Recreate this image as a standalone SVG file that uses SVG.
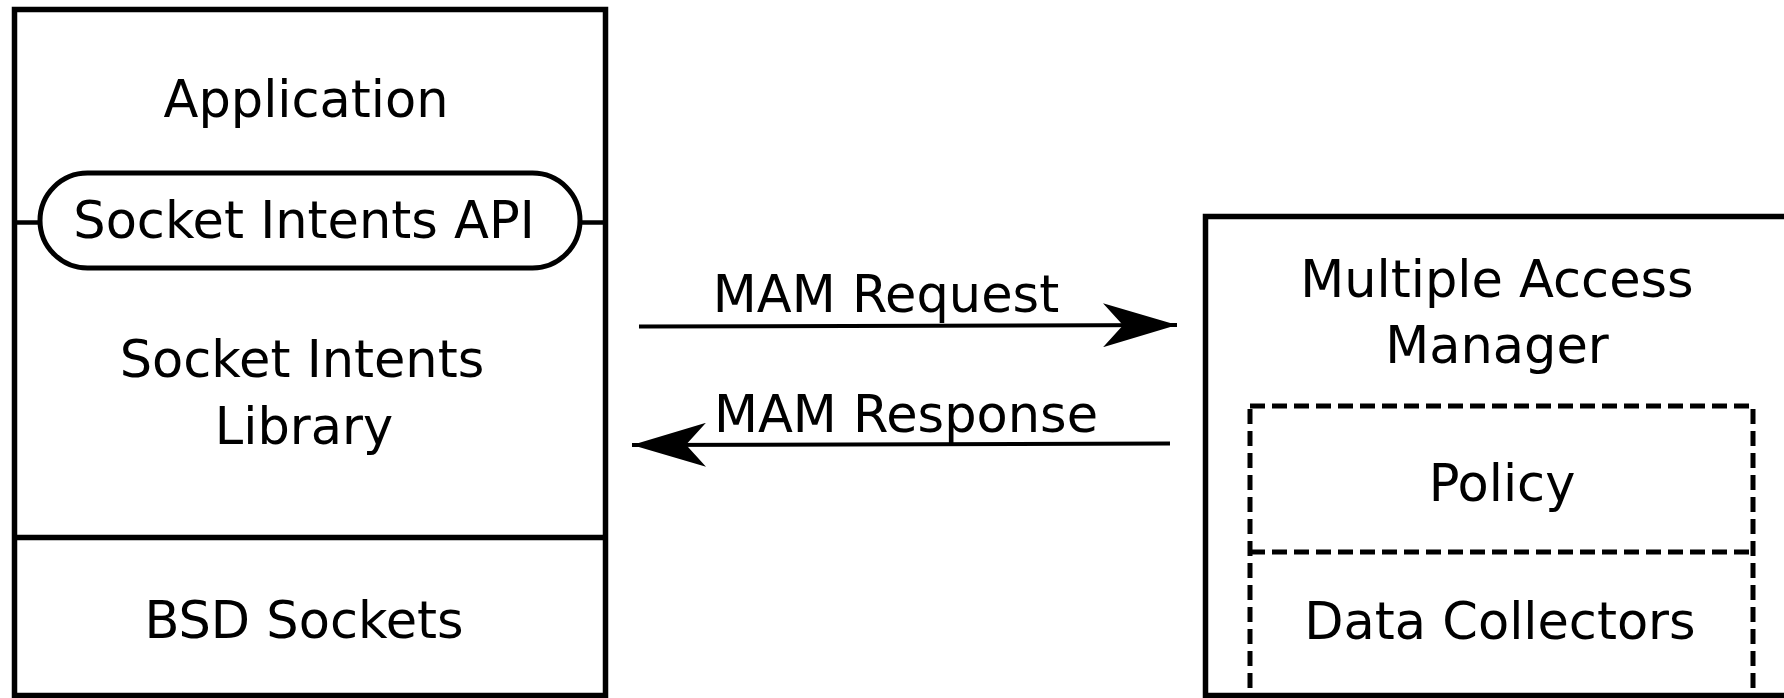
<svg xmlns="http://www.w3.org/2000/svg" width="1784" height="698" viewBox="0 0 1784 698">
  <style>
    .box { fill: none; stroke: #000; stroke-width: 5.5; }
    .pill { fill: #fff; stroke: #000; stroke-width: 5; }
    .stub { stroke: #000; stroke-width: 4.5; }
    .dash { fill: none; stroke: #000; stroke-width: 5; stroke-dasharray: 15 7; }
    .flow { fill: none; stroke: #000; stroke-width: 4; }
    .label { font-family: "DejaVu Sans", "Liberation Sans", sans-serif; font-size: 51px; fill: #000; text-anchor: middle; }
  </style>
  <defs>
    <marker id="head" viewBox="0 0 74 44" refX="74" refY="22" markerWidth="74" markerHeight="44" markerUnits="userSpaceOnUse" orient="auto">
      <path d="M0,0 L74,22 L0,44 L20,22 Z" fill="#000"/>
    </marker>
  </defs>

  <rect width="1784" height="698" fill="#fff"/>

  <!-- client host stack -->
  <g id="client-stack">
    <rect class="box" x="14.5" y="9.5" width="591" height="686"/>
    <line class="box" x1="14.5" y1="537.5" x2="605.5" y2="537.5"/>
    <text class="label" x="306" y="117">Application</text>
    <text class="label" x="302" y="377">Socket Intents</text>
    <text class="label" x="304" y="444">Library</text>
    <text class="label" x="304" y="638">BSD Sockets</text>
  </g>

  <!-- API boundary between application and library -->
  <g id="socket-intents-api">
    <line class="stub" x1="14.5" y1="222.5" x2="40" y2="222.5"/>
    <line class="stub" x1="580" y1="222.5" x2="605.5" y2="222.5"/>
    <rect class="pill" x="40" y="173" width="540" height="95" rx="47.5" ry="47.5"/>
    <text class="label" x="304" y="238">Socket Intents API</text>
  </g>

  <!-- multiple access manager -->
  <g id="mam">
    <rect class="box" x="1205.5" y="216.5" width="600" height="479"/>
    <text class="label" x="1497" y="297">Multiple Access</text>
    <text class="label" x="1497" y="363">Manager</text>
  </g>

  <g id="mam-components">
    <rect class="dash" x="1250" y="406" width="503" height="320"/>
    <line class="dash" x1="1250" y1="552" x2="1753" y2="552"/>
    <text class="label" x="1502" y="501">Policy</text>
    <text class="label" x="1500" y="639">Data Collectors</text>
  </g>

  <!-- request / response messages -->
  <g id="connectors">
    <path class="flow" d="M639,326.5 L1177,325" marker-end="url(#head)"/>
    <text class="label" x="886" y="312">MAM Request</text>
    <path class="flow" d="M1170,443.5 L632,445" marker-end="url(#head)"/>
    <text class="label" x="906" y="432">MAM Response</text>
  </g>
</svg>
